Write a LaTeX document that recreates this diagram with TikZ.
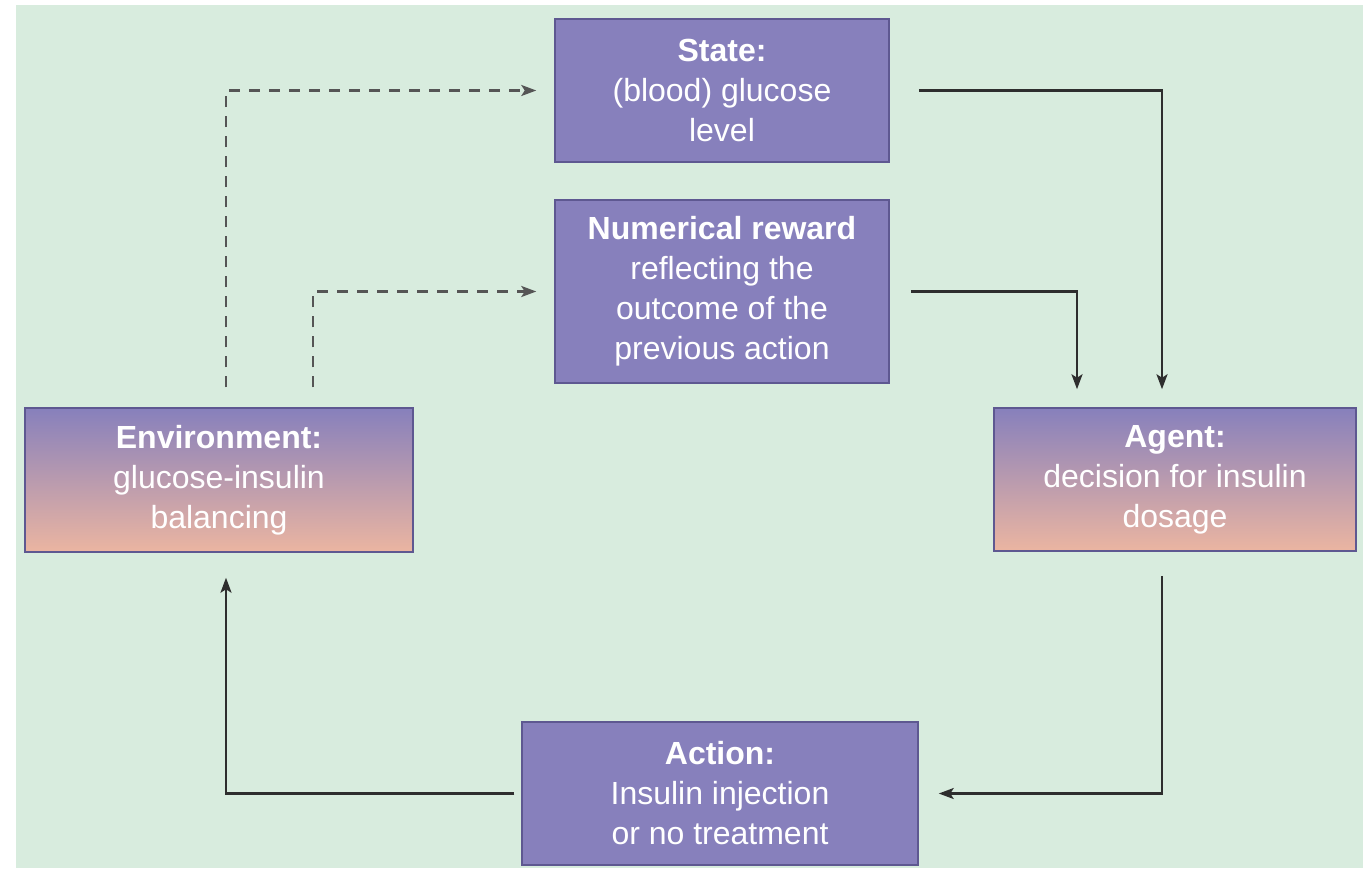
\documentclass[tikz,border=0pt]{standalone}
\usepackage{fontspec}
\setmainfont{Liberation Sans}
\usetikzlibrary{arrows.meta,calc}

\definecolor{panel}{HTML}{D8ECDE}
\definecolor{boxfill}{HTML}{8780BC}
\definecolor{boxpeach}{HTML}{EBB5A1}
\definecolor{boxedge}{HTML}{5E5891}
\definecolor{wire}{HTML}{2E2E2E}
\definecolor{dashwire}{HTML}{555555}

\begin{document}
\begin{tikzpicture}[x=1pt,y=-1pt,
  box/.style={draw=boxedge, line width=1.5pt, fill=boxfill, text=white,
    align=center, font=\fontsize{32}{40}\selectfont, inner sep=0pt},
  gradbox/.style={box, top color=boxfill, bottom color=boxpeach},
  tip/.style={-{Stealth[length=15pt,width=11pt,inset=3.5pt]}},
  flow/.style={tip, draw=wire, line width=2.4pt},
  feedback/.style={tip, draw=dashwire, line width=2.4pt, dash pattern=on 11pt off 9pt}
]
% page and panel
\fill[white] (0,0) rectangle (1369,869);
\useasboundingbox (0,0) rectangle (1369,869);
\fill[panel] (16,5) rectangle (1363,868);

% boxes
\node[box, minimum width=334pt, minimum height=143pt] (state) at (722,90.5)
  {\textbf{State:}\\(blood) glucose\\level};
\node[box, minimum width=334pt, minimum height=183pt] (reward) at (722,291.5)
  {\textbf{Numerical reward}\\reflecting the\\outcome of the\\previous action};
\node[gradbox, minimum width=388pt, minimum height=144pt] (env) at (219,480)
  {\textbf{Environment:}\\glucose-insulin\\balancing};
\node[gradbox, minimum width=362pt, minimum height=143pt] (agent) at (1175,479.5)
  {\textbf{Agent:}\\decision for insulin\\dosage};
\node[box, minimum width=396pt, minimum height=143pt] (action) at (720,793.5)
  {\textbf{Action:}\\Insulin injection\\or no treatment};

% observations from the environment
\draw[feedback] ($(env.north)+(7,-20)$) |- ($(state.west)+(-18,0)$);
\draw[feedback] ($(env.north)+(94,-20)$) |- ($(reward.west)+(-18,0)$);

% inputs to the agent
\draw[flow] ($(state.east)+(29,0)$) -| ($(agent.north)+(-13,-18)$);
\draw[flow] ($(reward.east)+(21,0)$) -| ($(agent.north)+(-98,-18)$);

% control loop
\draw[flow] ($(agent.south)+(-13,24)$) |- ($(action.east)+(20,0)$);
\draw[flow] ($(action.west)+(-7,0)$) -| ($(env.south)+(7,25)$);
\end{tikzpicture}
\end{document}
